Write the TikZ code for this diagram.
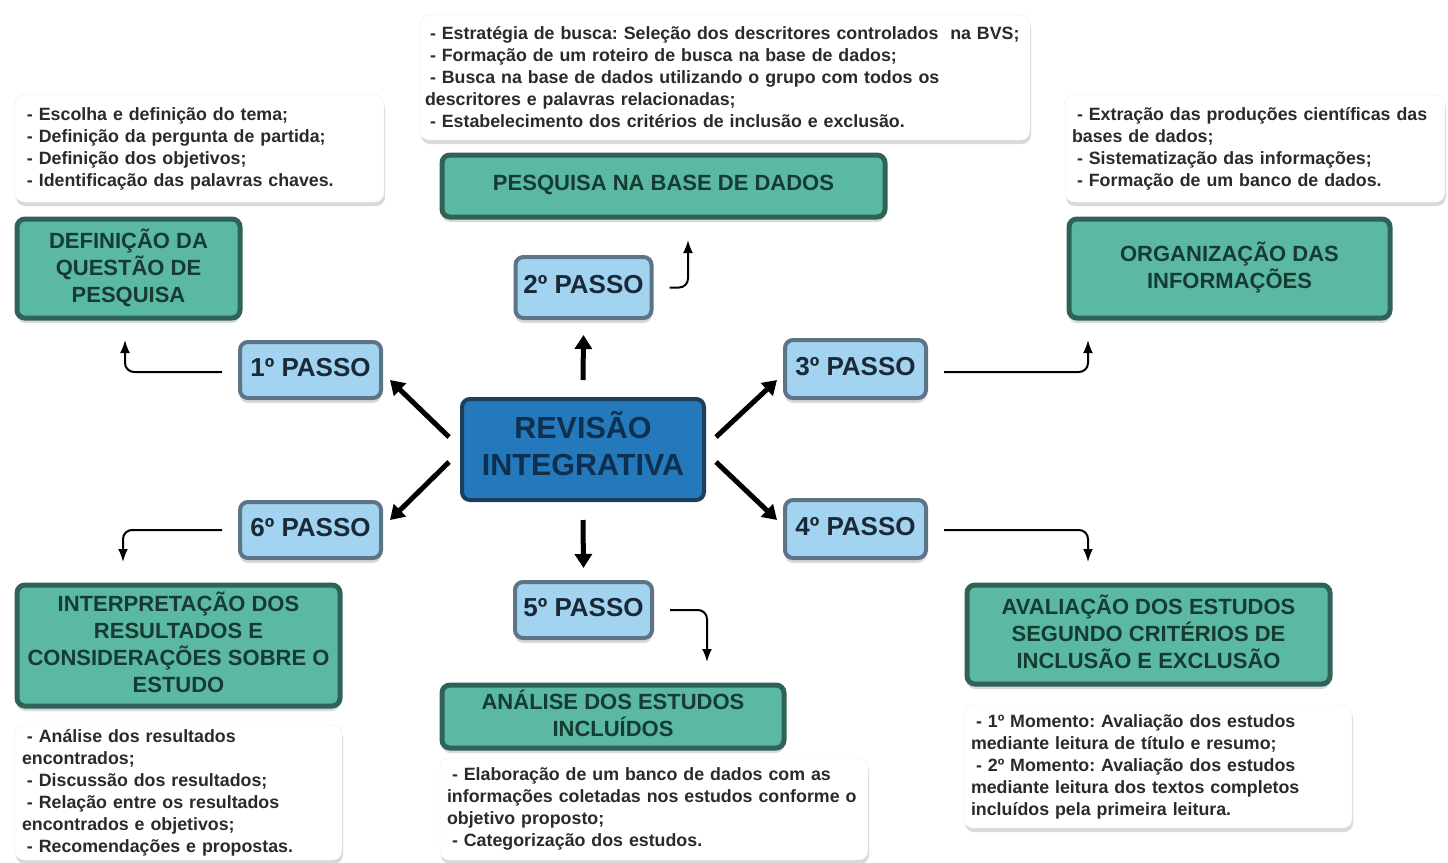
\documentclass[tikz,border=0pt]{standalone}
\usepackage{fontspec}
\setmainfont{Liberation Sans}
\frenchspacing
\usetikzlibrary{arrows.meta,positioning,shadows}
\definecolor{tealfill}{HTML}{5BB9A2}
\definecolor{tealdark}{HTML}{2F6259}
\definecolor{tealtext}{HTML}{163A34}
\definecolor{passofill}{HTML}{A2D4F2}
\definecolor{passodark}{HTML}{5D7386}
\definecolor{passotext}{HTML}{1B2836}
\definecolor{hubfill}{HTML}{2379BC}
\definecolor{hubdark}{HTML}{1C3F5E}
\definecolor{hubtext}{HTML}{0F2F4E}
\definecolor{notetext}{HTML}{2A2A2A}
\newcommand{\notefont}{\bfseries\fontsize{17.8}{22}\selectfont}
\newcommand{\topicfont}{\bfseries\fontsize{22}{27}\selectfont}
\newcommand{\passofont}{\bfseries\fontsize{26}{30}\selectfont}
\newcommand{\hubfont}{\bfseries\fontsize{30.5}{37}\selectfont}
\newcommand{\bul}{\hspace*{5pt}- }
\tikzset{
  note/.style={draw=gray!15, fill=white, rounded corners=9pt, inner xsep=7pt, inner ysep=0pt,
    align=left, font=\notefont, text=notetext,
    drop shadow={shadow xshift=1pt, shadow yshift=-4pt, opacity=0.3}},
  topic/.style={draw=tealdark, line width=5pt, fill=tealfill, rounded corners=8pt,
    align=center, font=\topicfont, text=tealtext, inner sep=2pt, text depth=6pt,
    drop shadow={shadow xshift=0pt, shadow yshift=-5pt, opacity=0.3}},
  passo/.style={draw=passodark, line width=4pt, fill=passofill, rounded corners=8pt,
    font=\passofont, text=passotext, inner sep=2pt, text depth=6pt,
    drop shadow={shadow xshift=0pt, shadow yshift=-5pt, opacity=0.3}},
  hub/.style={draw=hubdark, line width=4pt, fill=hubfill, rounded corners=8pt,
    align=center, font=\hubfont, text=hubtext, inner sep=2pt, text depth=12pt},
  link/.style={line width=2pt, rounded corners=9pt, -{Latex[length=13pt,width=10pt]}},
  spoke/.style={line width=5pt, -{Triangle[length=14pt,width=17pt]}}
}

\begin{document}
\begin{tikzpicture}[x=1pt,y=-1pt]
\useasboundingbox (0,0) rectangle (1448,862);

% centre
\node[hub, minimum width=242, minimum height=101] (ctr) at (583,449.5) {REVISÃO\\INTEGRATIVA};

% passos
\node[passo, minimum width=136, minimum height=61] (p2) at (583.5,287.5) {2º PASSO};
\node[passo, minimum width=141, minimum height=56] (p1) at (310.5,370) {1º PASSO};
\node[passo, minimum width=141, minimum height=58] (p3) at (855.5,369) {3º PASSO};
\node[passo, minimum width=141, minimum height=56] (p6) at (310.5,530) {6º PASSO};
\node[passo, minimum width=141, minimum height=58] (p4) at (855.5,529) {4º PASSO};
\node[passo, minimum width=137, minimum height=56] (p5) at (583.5,610) {5º PASSO};

% topics
\node[topic, minimum width=223, minimum height=99] (t1) at (128.5,268.5) {DEFINIÇÃO DA\\QUESTÃO DE\\PESQUISA};
\node[topic, minimum width=443, minimum height=62] (t2) at (663.5,186) {PESQUISA NA BASE DE DADOS};
\node[topic, minimum width=321, minimum height=99] (t3) at (1229.5,268.5) {ORGANIZAÇÃO DAS\\INFORMAÇÕES};
\node[topic, minimum width=363, minimum height=99] (t4) at (1148.5,634.5) {AVALIAÇÃO DOS ESTUDOS\\SEGUNDO CRITÉRIOS DE\\INCLUSÃO E EXCLUSÃO};
\node[topic, minimum width=342, minimum height=63] (t5) at (613,716.5) {ANÁLISE DOS ESTUDOS\\INCLUÍDOS};
\node[topic, minimum width=323, minimum height=121] (t6) at (178.5,645.5) {INTERPRETAÇÃO DOS\\RESULTADOS E\\CONSIDERAÇÕES SOBRE O\\ESTUDO};

% notes
\node[note, text width=355, minimum height=107] (n1) at (199.5,148.5) {\bul Escolha e definição do tema;\\
\bul Definição da pergunta de partida;\\
\bul Definição dos objetivos;\\
\bul Identificação das palavras chaves.};
\node[note, text width=600, inner xsep=5pt, minimum height=125] (n2) at (725,77.5) {\bul Estratégia de busca: Seleção dos descritores controlados\ \ na BVS;\\
\bul Formação de um roteiro de busca na base de dados;\\
\bul Busca na base de dados utilizando o grupo com todos os\\
descritores e palavras relacionadas;\\
\bul Estabelecimento dos critérios de inclusão e exclusão.};
\node[note, text width=366, minimum height=107] (n3) at (1255,148.5) {\bul Extração das produções científicas das\\
bases de dados;\\
\bul Sistematização das informações;\\
\bul Formação de um banco de dados.};
\node[note, text width=374, minimum height=123] (n4) at (1158,766.5) {\bul 1º Momento: Avaliação dos estudos\\
mediante leitura de título e resumo;\\
\bul 2º Momento: Avaliação dos estudos\\
mediante leitura dos textos completos\\
incluídos pela primeira leitura.};
\node[note, text width=414, minimum height=102] (n5) at (654,809) {\bul Elaboração de um banco de dados com as\\
informações coletadas nos estudos conforme o\\
objetivo proposto;\\
\bul Categorização dos estudos.};
\node[note, text width=313, minimum height=135] (n6) at (178.5,792.5) {\bul Análise dos resultados\\
encontrados;\\
\bul Discussão dos resultados;\\
\bul Relação entre os resultados\\
encontrados e objetivos;\\
\bul Recomendações e propostas.};

% thick arrows from the centre
\draw[spoke] ([yshift=17pt]ctr.north) -- ([yshift=-15pt]p2.south);
\draw[spoke] ([yshift=-18pt]ctr.south) -- ([yshift=12pt]p5.north);
\draw[spoke] ([shift={(-11,-12.5)}]ctr.west) -- ([shift={(7,-20)}]p1.south east);
\draw[spoke] ([shift={(-11,12.5)}]ctr.west) -- ([shift={(7,20)}]p6.north east);
\draw[spoke] ([shift={(10,-12.5)}]ctr.east) -- ([shift={(-6,-20)}]p3.south west);
\draw[spoke] ([shift={(10,12.5)}]ctr.east) -- ([shift={(-6,22)}]p4.north west);

% thin arrows to the topics
\coordinate (a1) at (125,340);
\coordinate (a2) at (688,240);
\coordinate (a3) at (1088,340);
\coordinate (a4) at (1088,562);
\coordinate (a5) at (707,662);
\coordinate (a6) at (123,562);
\draw[link] ([xshift=-16pt,yshift=-2pt]p1.west) -| (a1);
\draw[link] ([xshift=16pt]p2.east) -| (a2);
\draw[link] ([xshift=16pt,yshift=-3pt]p3.east) -| (a3);
\draw[link] ([xshift=16pt,yshift=-1pt]p4.east) -| (a4);
\draw[link] ([xshift=16pt]p5.east) -| (a5);
\draw[link] ([xshift=-16pt]p6.west) -| (a6);
\end{tikzpicture}
\end{document}
